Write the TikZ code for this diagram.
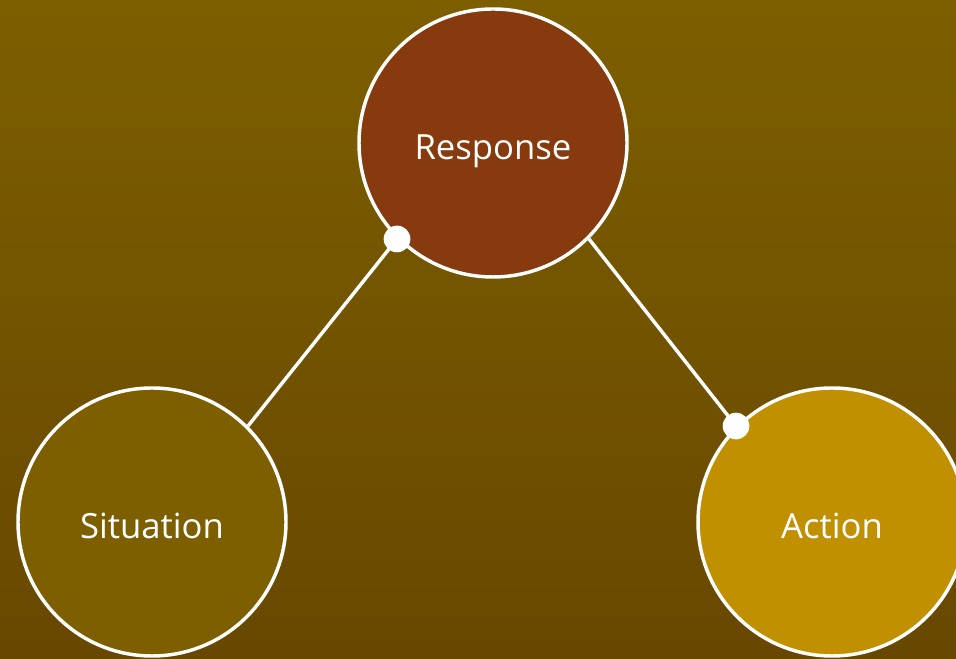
\documentclass[tikz,border=0pt]{standalone}
\usepackage{fontspec}
\setsansfont{Open Sans}
\definecolor{bgtop}{RGB}{125, 95, 0}
\definecolor{bgbottom}{RGB}{104, 72, 0}
\definecolor{rust}{RGB}{135, 58, 14}
\definecolor{mustard}{RGB}{192, 144, 0}
\tikzset{
	bubble/.style={circle, draw=white, line width=2.6pt, minimum size=201pt, inner sep=0pt, text height=25pt, text depth=0pt, text=white, font=\sffamily\fontsize{26}{30}\selectfont},
	link/.style={draw=white, line width=2.6pt},
	knob/.style={fill=white},
}
\begin{document}
\begin{tikzpicture}[x=0.75pt, y=0.75pt]
		\shade[top color=bgtop, bottom color=bgbottom] (0,0) rectangle (956,659);
		\useasboundingbox (0,0) rectangle (956,659);
		\clip (0,0) rectangle (956,659);
		\node[bubble, fill=rust] (response) at (493,516) {Response};
		\node[bubble, fill=bgtop] (situation) at (152,137) {Situation};
		\node[bubble, fill=mustard] (action) at (832,137) {Action};
		\draw[link] (situation.45) -- (response.225);
		\draw[link] (response.315) -- (action.135);
		\fill[knob] (response.225) circle (10pt);
		\fill[knob] (action.135) circle (10pt);
	\end{tikzpicture}
\end{document}
